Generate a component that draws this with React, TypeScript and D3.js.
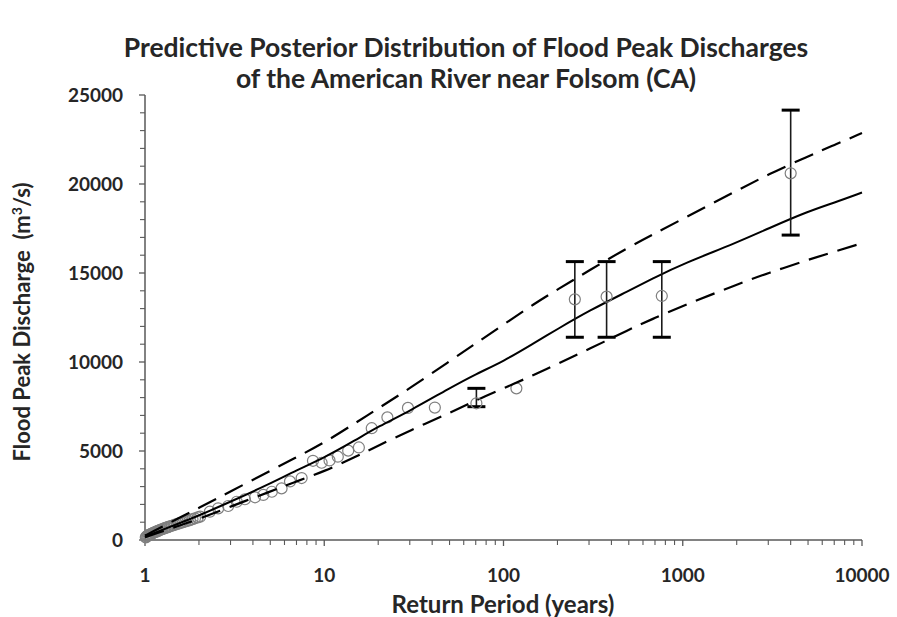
import React from "react";
import * as d3 from "d3";

// Observed annual peaks: plotting-position return period (years) and discharge (m3/s)
const obsPeriod = [
  1.01, 1.02, 1.03, 1.04, 1.05, 1.06, 1.08, 1.09, 1.11, 1.12, 1.14, 1.16, 1.17, 1.19,
  1.21, 1.23, 1.25, 1.28, 1.3, 1.33, 1.35, 1.38, 1.41, 1.44, 1.47, 1.51, 1.55, 1.59,
  1.63, 1.68, 1.73, 1.78, 1.84, 1.9, 1.97, 2.03, 2.3, 2.56, 2.91, 3.25, 3.61, 4.11,
  4.57, 5.1, 5.78, 6.44, 7.48, 8.65, 9.67, 10.7, 11.9, 13.6, 15.6, 18.4, 22.5, 29.3,
  41.4, 118,
];
const obsDischarge = [
  150, 190, 230, 250, 280, 300, 330, 360, 390, 420, 450, 470, 500, 530,
  560, 590, 610, 650, 680, 710, 740, 770, 800, 830, 860, 900, 930, 970,
  1000, 1040, 1080, 1120, 1170, 1220, 1270, 1310, 1590, 1780, 1910, 2150, 2290, 2400,
  2530, 2710, 2900, 3290, 3480, 4450, 4340, 4470, 4680, 5020, 5200, 6280, 6890, 7420,
  7440, 8520,
];

// Historical / paleoflood estimates with uncertainty ranges
const histPeriod = [70.6, 250, 376, 764, 4000];
const histDischarge = [7680, 13520, 13670, 13710, 20600];
const histLow = [7490, 11390, 11390, 11390, 17130];
const histHigh = [8520, 15640, 15640, 15640, 24150];

// Predictive posterior quantile curves
const curvePeriod = [
  1, 1.2, 1.5, 2, 3, 5, 7, 10, 15, 20, 30, 50, 70, 100, 150, 200, 300, 500, 700,
  1000, 2000, 3000, 5000, 7000, 10000,
];
const medianQ = [
  185, 500, 880, 1370, 2150, 3170, 3920, 4620, 5620, 6370, 7250, 8530, 9320, 10040,
  11100, 11850, 12880, 14000, 14760, 15510, 16700, 17500, 18460, 18950, 19520,
];
const upperQ = [
  250, 650, 1170, 1800, 2730, 3890, 4650, 5460, 6590, 7390, 8520, 10040, 11040, 12100,
  13300, 14070, 15140, 16460, 17230, 18040, 19620, 20540, 21560, 22190, 22860,
];
const lowerQ = [
  150, 420, 760, 1180, 1880, 2720, 3300, 3850, 4680, 5300, 6150, 7135, 7850, 8520,
  9300, 9900, 10720, 11820, 12480, 13150, 14350, 15000, 15740, 16200, 16670,
];

const xTickValues = [1, 10, 100, 1000, 10000];
const yTickValues = [0, 5000, 10000, 15000, 20000, 25000];

const titleLines = [
  "Predictive Posterior Distribution of Flood Peak Discharges",
  "of the American River near Folsom (CA)",
];
const xTitle = "Return Period (years)";

const W = 897;
const H = 617;
const FONT = "Lato, 'Open Sans', sans-serif";
const AXIS = "#595959";
const TEXT = "#262626";

export default function App() {
  const x = d3.scaleLog().domain([1, 10000]).range([145, 862]);
  const y = d3.scaleLinear().domain([0, 25000]).range([540, 95]);

  const line = d3
    .line<[number, number]>()
    .x((d) => x(d[0]))
    .y((d) => y(d[1]))
    .curve(d3.curveBasis);

  const pairs = (vals: number[]) => curvePeriod.map((t, i) => [t, vals[i]] as [number, number]);

  const minorX: number[] = [];
  for (let dec = 1; dec < 10000; dec *= 10) {
    for (let k = 2; k <= 9; k++) minorX.push(dec * k);
  }
  const minorY = d3.range(0, 25001, 1000).filter((v) => v % 5000 !== 0);

  const [x0, x1] = x.range();
  const [y0, y1] = y.range();

  return (
    <svg
      width={W}
      height={H}
      style={{ position: "absolute", left: 0, top: 0, background: "#fff" }}
      fontFamily={FONT}
    >
      <rect width={W} height={H} fill="#fff" />

      {/* Title */}
      {titleLines.map((t, i) => (
        <text
          key={t}
          x={466}
          y={57 + i * 31}
          textAnchor="middle"
          fontSize={26.5}
          fontWeight={700}
          fill={TEXT}
        >
          {t}
        </text>
      ))}

      {/* Axes */}
      <line x1={x0} x2={x1} y1={y0} y2={y0} stroke={AXIS} strokeWidth={1.5} />
      <line x1={x0} x2={x0} y1={y0} y2={y1} stroke={AXIS} strokeWidth={1.5} />
      {xTickValues.map((v) => (
        <line key={"xt" + v} x1={x(v)} x2={x(v)} y1={y0} y2={y0 + 6} stroke={AXIS} strokeWidth={1.3} />
      ))}
      {minorX.map((v) => (
        <line key={"xm" + v} x1={x(v)} x2={x(v)} y1={y0} y2={y0 + 5} stroke={AXIS} strokeWidth={1.1} />
      ))}
      {yTickValues.map((v) => (
        <line key={"yt" + v} x1={x0 - 6} x2={x0} y1={y(v)} y2={y(v)} stroke={AXIS} strokeWidth={1.3} />
      ))}
      {minorY.map((v) => (
        <line key={"ym" + v} x1={x0 - 5} x2={x0} y1={y(v)} y2={y(v)} stroke={AXIS} strokeWidth={1.1} />
      ))}

      {xTickValues.map((v) => (
        <text key={"xl" + v} x={x(v)} y={582} textAnchor="middle" fontSize={19} fontWeight={700} fill={TEXT}>
          {v}
        </text>
      ))}
      {yTickValues.map((v) => (
        <text key={"yl" + v} x={x0 - 22} y={y(v) + 6.5} textAnchor="end" fontSize={19} fontWeight={700} fill={TEXT}>
          {v}
        </text>
      ))}

      <text x={503} y={613} textAnchor="middle" fontSize={24} fontWeight={700} fill={TEXT}>
        {xTitle}
      </text>
      <text
        transform={`translate(30, 322) rotate(-90)`}
        textAnchor="middle"
        fontSize={22}
        fontWeight={700}
        fill={TEXT}
      >
        Flood Peak Discharge{"\u00a0\u00a0"}(m
        <tspan fontSize={14} dy={-8}>3</tspan>
        <tspan dy={8}>/s)</tspan>
      </text>

      {/* Observed peaks */}
      {obsPeriod.map((t, i) => (
        <circle
          key={"o" + i}
          cx={x(t)}
          cy={y(obsDischarge[i])}
          r={5.5}
          fill="none"
          stroke="#7f7f7f"
          strokeWidth={1.2}
        />
      ))}

      {/* Quantile curves */}
      <path d={line(pairs(upperQ)) || ""} fill="none" stroke="#000" strokeWidth={2.2} strokeDasharray="20 10" />
      <path d={line(pairs(lowerQ)) || ""} fill="none" stroke="#000" strokeWidth={2.2} strokeDasharray="20 10" />
      <path d={line(pairs(medianQ)) || ""} fill="none" stroke="#000" strokeWidth={2} />

      {/* Historical floods with ranges */}
      {histPeriod.map((t, i) => {
        const cx = x(t);
        return (
          <g key={"h" + i}>
            <line x1={cx} x2={cx} y1={y(histLow[i])} y2={y(histHigh[i])} stroke="#1a1a1a" strokeWidth={1.6} />
            <line x1={cx - 9} x2={cx + 9} y1={y(histLow[i])} y2={y(histLow[i])} stroke="#000" strokeWidth={3} />
            <line x1={cx - 9} x2={cx + 9} y1={y(histHigh[i])} y2={y(histHigh[i])} stroke="#000" strokeWidth={3} />
            <circle cx={cx} cy={y(histDischarge[i])} r={5.5} fill="none" stroke="#7f7f7f" strokeWidth={1.2} />
          </g>
        );
      })}
    </svg>
  );
}
